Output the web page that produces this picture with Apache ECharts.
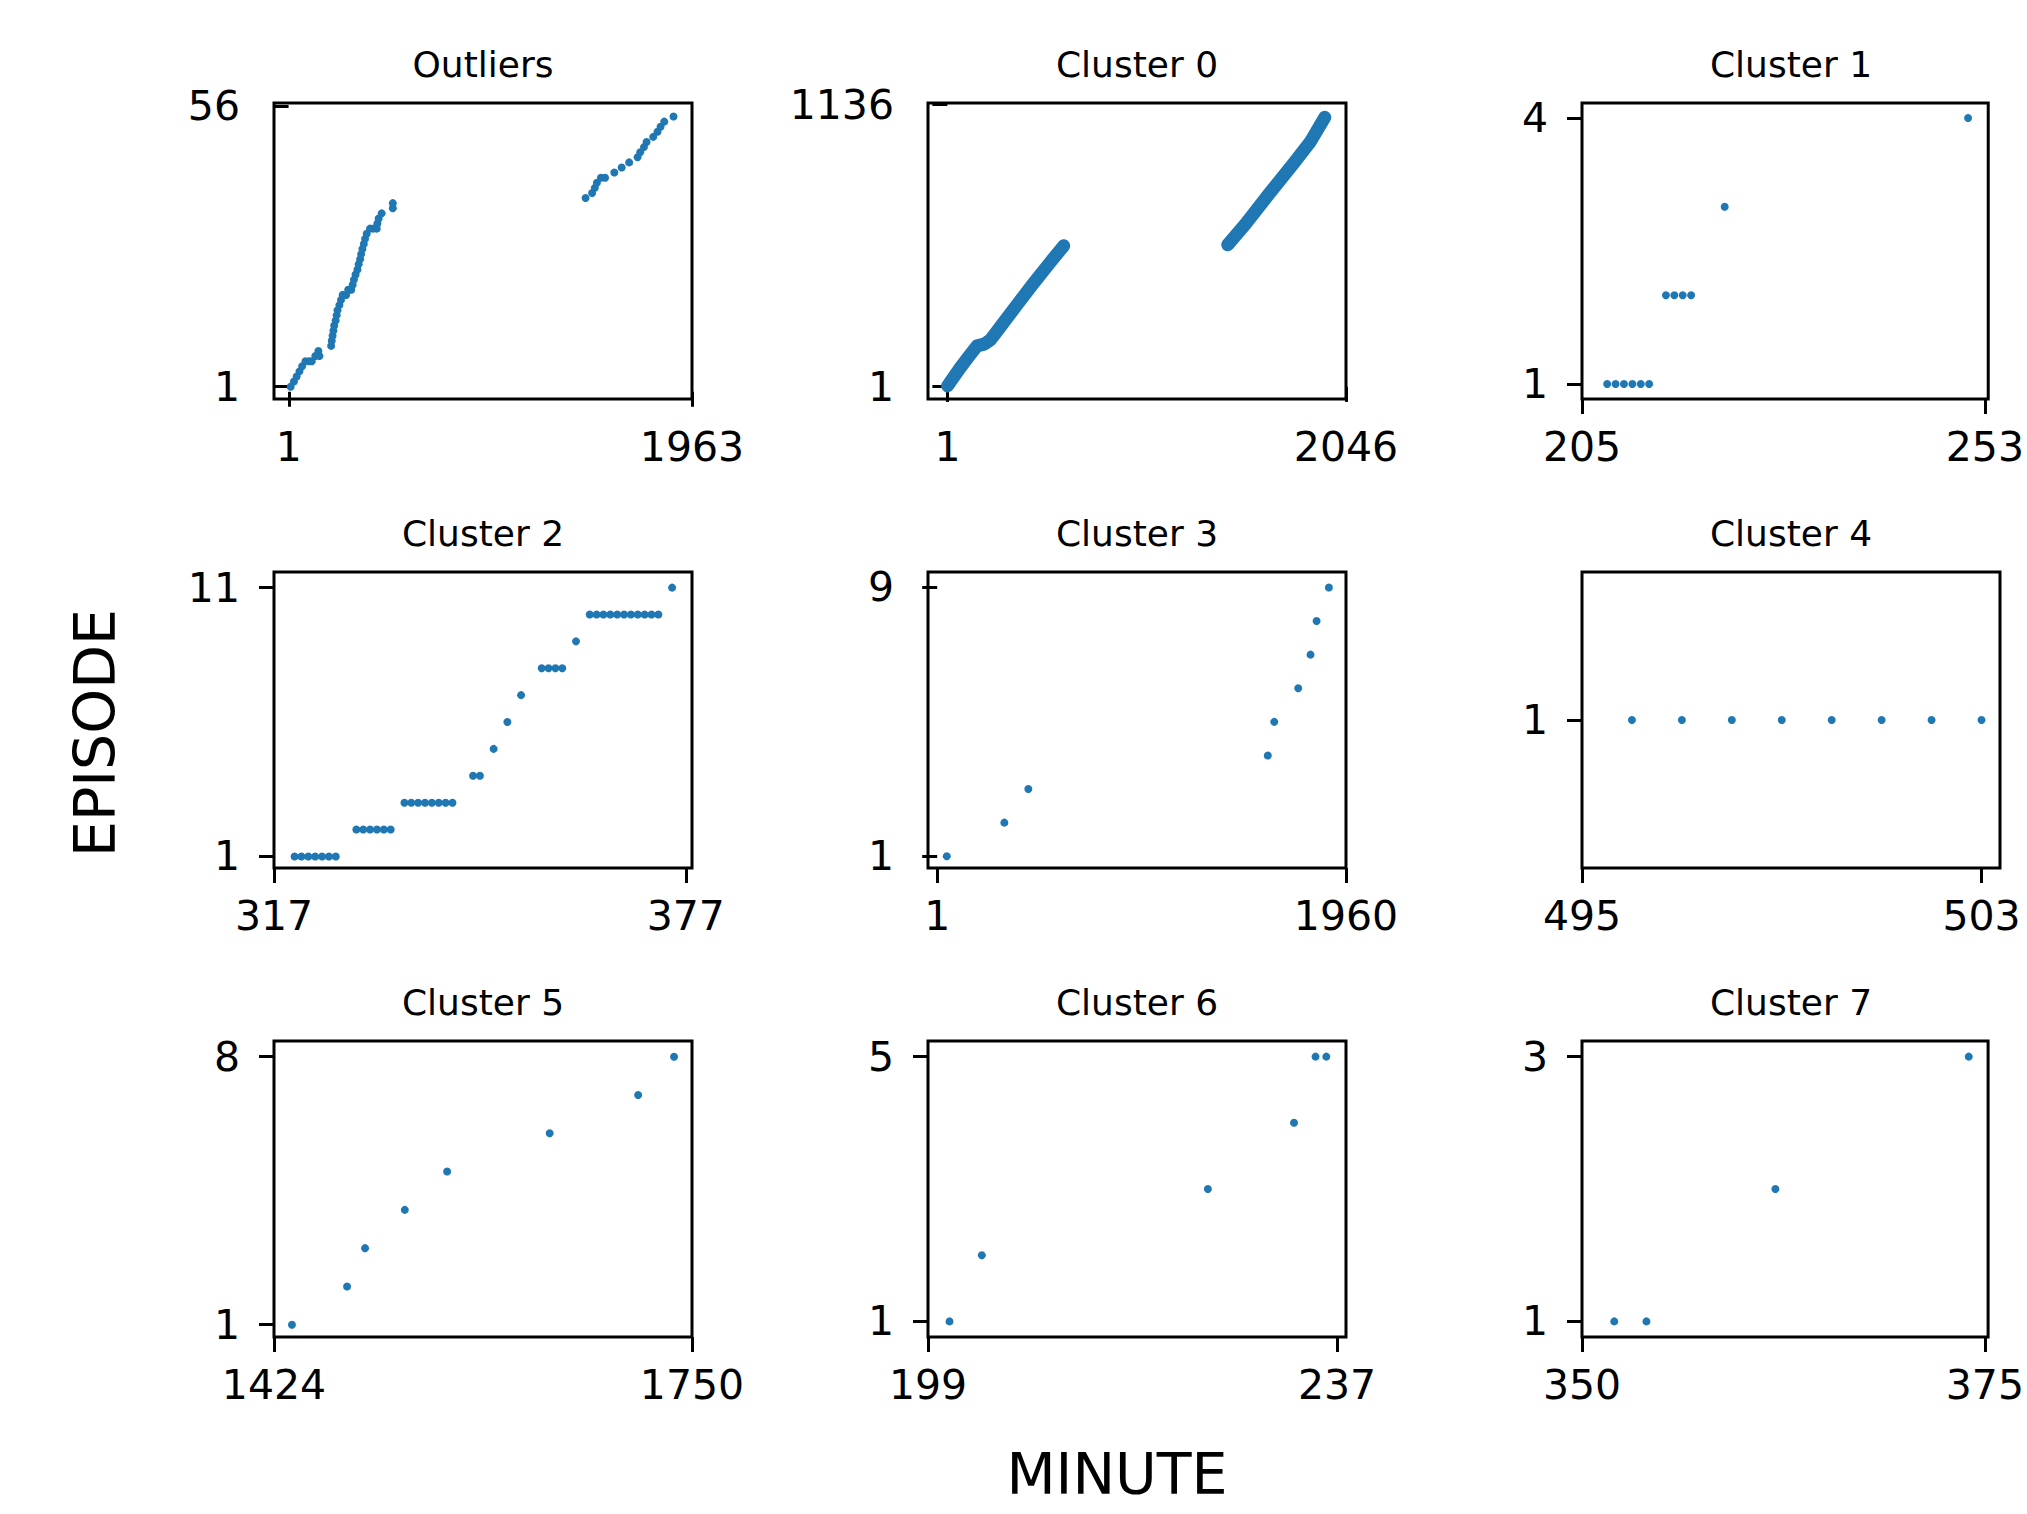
<!DOCTYPE html>
<html>
<head>
<meta charset="utf-8">
<script src="https://cdn.jsdelivr.net/npm/echarts@6/dist/echarts.min.js"></script>
<style>
html,body{margin:0;padding:0;background:#ffffff;}
#chart{width:2027px;height:1514px;}
</style>
</head>
<body>
<div id="chart"></div>
<script>
// ---- data (minute, episode) ----
const titles = ['Outliers','Cluster 0','Cluster 1','Cluster 2','Cluster 3','Cluster 4','Cluster 5','Cluster 6','Cluster 7'];

const xTickLabels = [[1,1963],[1,2046],[205,253],[317,377],[1,1960],[495,503],[1424,1750],[199,237],[350,375]];
const yTickLabels = [[1,56],[1,1136],[1,4],[1,11],[1,9],[1],[1,8],[1,5],[1,3]];

const xRanges = [[-71,1963],[-99.5,2046],[205,253.4],[317,377.9],[-44,1960],[495,503.37],[1424,1750],[199,237.83],[350,375.2]];
const yRanges = [[-1.42,56.65],[-48.7,1142.8],[0.83,4.17],[0.57,11.58],[0.65,9.46],[0.94,1.06],[0.68,8.41],[0.764,5.236],[0.882,3.118]];

const outliers = [
  [10,1],[26,2],[39,3],[53,4],[66,5],[82,6],[100,6],[113,6],[130,7],[150,7],[145,8],
  [207,9],[210,10],[214,11],[218,12],[222,13],[229,14],[234,15],[238,16],[247,17],[255,18],
  [263,19],[280,19],[290,20],[305,20],[312,21],[318,22],[326,23],[335,24],[341,25],[348,26],
  [353,27],[359,28],[366,29],[372,30],[380,31],[396,32],[412,32],[429,32],[432,33],[438,34],
  [453,35],[507,36],[507,37],
  [1445,38],[1477,39],[1490,40],[1500,41],[1520,42],[1540,42],[1585,43],[1621,44],[1657,45],
  [1698,46],[1711,47],[1729,48],[1742,49],[1774,50],[1795,51],[1810,52],[1828,53],[1873,54]
];

// Cluster 0 is a dense band of points; traced path of the two runs
const cluster0RunA = [[1,4],[64,75],[116,129],[152,165],[189,172],[221,189],[273,243],[357,330],[440,415],[524,498],[597,568]];
const cluster0RunB = [[1439,572],[1529,655],[1654,780],[1780,903],[1864,988],[1937,1085]];

const cluster1 = [[208,1],[209,1],[210,1],[211,1],[212,1],[213,1],[215,2],[216,2],[217,2],[218,2],[222,3],[251,4]];

const cluster2 = [
  [320,1],[321,1],[322,1],[323,1],[324,1],[325,1],[326,1],
  [329,2],[330,2],[331,2],[332,2],[333,2],[334,2],
  [336,3],[337,3],[338,3],[339,3],[340,3],[341,3],[342,3],[343,3],
  [346,4],[347,4],[349,5],[351,6],[353,7],
  [356,8],[357,8],[358,8],[359,8],[361,9],
  [363,10],[364,10],[365,10],[366,10],[367,10],[368,10],[369,10],[370,10],[371,10],[372,10],[373,10],
  [375,11]
];

const cluster3 = [[46,1],[322,2],[437,3],[1585,4],[1616,5],[1731,6],[1790,7],[1819,8],[1878,9]];
const cluster4 = [[496,1],[497,1],[498,1],[499,1],[500,1],[501,1],[502,1],[503,1]];
const cluster5 = [[1438,1],[1481,2],[1495,3],[1526,4],[1559,5],[1639,6],[1708,7],[1736,8]];
const cluster6 = [[201,1],[204,2],[225,3],[233,4],[235,5],[236,5]];
const cluster7 = [[352,1],[354,1],[362,2],[374,3]];

const scatterSets = [outliers, null, cluster1, cluster2, cluster3, cluster4, cluster5, cluster6, cluster7];

// ---- layout ----
const colLeft = [274, 928, 1582];
const rowTop = [103, 572, 1041];
const boxW = 418, boxH = 296;
const blue = '#1f77b4';
const font = 'DejaVu Sans';

const grids = [], xAxes = [], yAxes = [], series = [], graphics = [];

for (let i = 0; i < 9; i++) {
  const r = Math.floor(i / 3), c = i % 3;
  grids.push({
    left: colLeft[c], top: rowTop[r], width: boxW, height: boxH,
    show: true, borderColor: '#000', borderWidth: 3, backgroundColor: 'transparent', containLabel: false
  });
  xAxes.push({
    type: 'value', gridIndex: i, min: xRanges[i][0], max: xRanges[i][1],
    axisLine: { show: false },
    splitLine: { show: false },
    axisTick: { show: true, length: 15, lineStyle: { color: '#000', width: 3 }, customValues: xTickLabels[i] },
    axisLabel: { show: true, margin: 27, color: '#000', fontSize: 41, fontFamily: font,
      customValues: xTickLabels[i], formatter: v => String(v) }
  });
  yAxes.push({
    type: 'value', gridIndex: i, min: yRanges[i][0], max: yRanges[i][1],
    axisLine: { show: false },
    splitLine: { show: false },
    axisTick: { show: true, length: 15, lineStyle: { color: '#000', width: 3 }, customValues: yTickLabels[i] },
    axisLabel: { show: true, margin: 34, color: '#000', fontSize: 41, fontFamily: font,
      customValues: yTickLabels[i], formatter: v => String(v) }
  });
  if (scatterSets[i]) {
    series.push({
      type: 'scatter', xAxisIndex: i, yAxisIndex: i, data: scatterSets[i],
      symbol: 'circle', symbolSize: 8, itemStyle: { color: blue, opacity: 1 }, silent: true
    });
  }
  graphics.push({
    type: 'text', x: colLeft[c] + boxW / 2, y: rowTop[r] - 39,
    style: { text: titles[i], fill: '#000', font: '36px "DejaVu Sans"', align: 'center', verticalAlign: 'middle' }
  });
}

[cluster0RunA, cluster0RunB].forEach(run => {
  series.push({
    type: 'line', xAxisIndex: 1, yAxisIndex: 1, data: run, showSymbol: false, smooth: false,
    lineStyle: { color: blue, width: 13, cap: 'round', join: 'round' }, silent: true
  });
});

graphics.push({
  type: 'text', x: 1117, y: 1474,
  style: { text: 'MINUTE', fill: '#000', font: '57px "DejaVu Sans"', align: 'center', verticalAlign: 'middle' }
});
graphics.push({
  type: 'text', x: 95, y: 733, rotation: Math.PI / 2,
  style: { text: 'EPISODE', fill: '#000', font: '57px "DejaVu Sans"', align: 'center', verticalAlign: 'middle' }
});

const chart = echarts.init(document.getElementById('chart'), null, { renderer: 'svg', width: 2027, height: 1514 });
chart.setOption({
  animation: false,
  backgroundColor: '#ffffff',
  textStyle: { fontFamily: font },
  grid: grids,
  xAxis: xAxes,
  yAxis: yAxes,
  series: series,
  graphic: graphics
});
</script>
</body>
</html>
